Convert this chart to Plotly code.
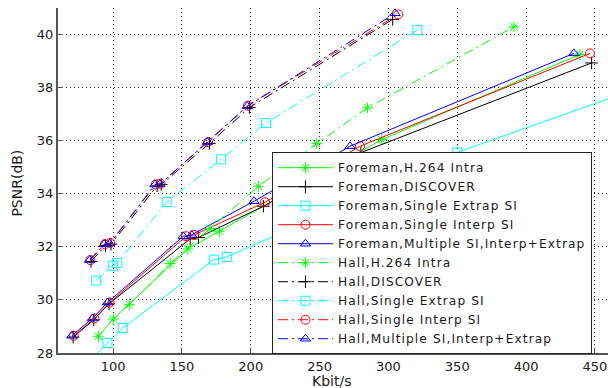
import plotly.graph_objects as go

# ---- data (Kbit/s, PSNR dB) ----
foreman_intra_x = [89.3, 100.2, 154.2, 177.2, 295.1, 439.1]
foreman_intra_y = [28.63, 29.28, 31.92, 32.59, 36.04, 39.25]

foreman_discover_x = [71.0, 86.0, 97.0, 156.0, 162.0, 209.2, 280.0, 447.6]
foreman_discover_y = [28.60, 29.25, 29.85, 32.30, 32.35, 33.53, 35.55, 38.93]

foreman_extrap_x = [84.0, 95.9, 107.0, 173.3, 182.6, 280.0, 350.0, 480.0]
foreman_extrap_y = [27.75, 28.38, 28.94, 31.52, 31.62, 33.85, 35.56, 37.95]

foreman_interp_x = [71.5, 86.5, 97.5, 153.0, 159.0, 210.4, 279.3, 446.4]
foreman_interp_y = [28.65, 29.30, 29.90, 32.40, 32.45, 33.68, 35.79, 39.29]

foreman_multi_x = [70.0, 85.0, 96.0, 151.0, 157.0, 202.4, 272.1, 434.7]
foreman_multi_y = [28.65, 29.30, 29.90, 32.40, 32.45, 33.72, 35.79, 39.29]

hall_intra_x = [111.8, 141.4, 170.4, 205.5, 247.9, 284.9, 391.2]
hall_intra_y = [29.82, 31.37, 32.69, 34.28, 35.89, 37.24, 40.29]

hall_discover_x = [84.0, 94.5, 98.5, 132.0, 135.0, 170.0, 199.0, 303.1]
hall_discover_y = [31.45, 32.05, 32.10, 34.30, 34.35, 35.90, 37.25, 40.57]

hall_extrap_x = [87.7, 99.8, 103.1, 139.0, 178.5, 211.1, 321.0]
hall_extrap_y = [30.73, 31.29, 31.39, 33.69, 35.30, 36.67, 40.17]

hall_interp_x = [83.5, 94.0, 98.0, 131.0, 134.5, 169.0, 198.0, 307.2]
hall_interp_y = [31.50, 32.10, 32.15, 34.35, 34.38, 35.95, 37.32, 40.76]

hall_multi_x = [83.0, 93.5, 97.5, 130.5, 134.0, 168.5, 197.5, 304.8]
hall_multi_y = [31.50, 32.10, 32.12, 34.35, 34.36, 35.95, 37.30, 40.80]

x_ticks = [100, 150, 200, 250, 300, 350, 400, 450]
y_ticks = [28, 30, 32, 34, 36, 38, 40]

HALL_DASH = "10px,4px,2px,4px"
series = [
    ("Foreman,H.264 Intra", foreman_intra_x, foreman_intra_y, "#00ff00", "asterisk-open", "solid"),
    ("Foreman,DISCOVER", foreman_discover_x, foreman_discover_y, "#000000", "cross-thin-open", "solid"),
    ("Foreman,Single Extrap SI", foreman_extrap_x, foreman_extrap_y, "#00ffff", "square-open", "solid"),
    ("Foreman,Single Interp SI", foreman_interp_x, foreman_interp_y, "#ff0000", "circle-open", "solid"),
    ("Foreman,Multiple SI,Interp+Extrap", foreman_multi_x, foreman_multi_y, "#0000ff", "triangle-up-open", "solid"),
    ("Hall,H.264 Intra", hall_intra_x, hall_intra_y, "#00ff00", "asterisk-open", HALL_DASH),
    ("Hall,DISCOVER", hall_discover_x, hall_discover_y, "#000000", "cross-thin-open", HALL_DASH),
    ("Hall,Single Extrap SI", hall_extrap_x, hall_extrap_y, "#00ffff", "square-open", HALL_DASH),
    ("Hall,Single Interp SI", hall_interp_x, hall_interp_y, "#ff0000", "circle-open", HALL_DASH),
    ("Hall,Multiple SI,Interp+Extrap", hall_multi_x, hall_multi_y, "#0000ff", "triangle-up-open", HALL_DASH),
]

fig = go.Figure()
for name, xs, ys, col, sym, dash in series:
    fig.add_trace(go.Scatter(
        x=xs, y=ys,
        name='<span style="letter-spacing:1.1px">' + name + '</span>',
        mode="lines+markers",
        line=dict(color=col, width=1, dash=dash),
        marker=dict(symbol=sym, size=9, color=col, line=dict(width=1, color=col)),
    ))

font_family = "DejaVu Sans"
fig.update_layout(
    width=608, height=388,
    margin=dict(l=58, r=0, t=8, b=35),
    paper_bgcolor="white", plot_bgcolor="white",
    font=dict(family=font_family, size=13, color="#1a1a1a"),
    showlegend=True,
    legend=dict(
        x=0.389, y=0.582, xanchor="left", yanchor="top",
        bgcolor="white", bordercolor="#222222", borderwidth=1,
        font=dict(family=font_family, size=12.2, color="#1a1a1a"),
        itemwidth=55, tracegroupgap=0,
    ),
    xaxis=dict(
        range=[60, 459.5], tickvals=x_ticks, ticktext=[str(v) for v in x_ticks],
        showgrid=True, gridcolor="#222222", gridwidth=1, griddash="1px,3px",
        showline=True, linecolor="#555555", linewidth=2,
        ticks="inside", ticklen=5, tickcolor="#555555",
        zeroline=False, mirror=False,
    ),
    yaxis=dict(
        range=[28, 41], tickvals=y_ticks, ticktext=[str(v) for v in y_ticks],
        showgrid=True, gridcolor="#222222", gridwidth=1, griddash="1px,3px",
        showline=True, linecolor="#555555", linewidth=2,
        ticks="inside", ticklen=5, tickcolor="#555555",
        zeroline=False, mirror=False,
    ),
    annotations=[
        dict(text="Kbit/s", x=0.497, y=-0.081, xref="paper", yref="paper",
             xanchor="center", yanchor="middle", showarrow=False,
             font=dict(family=font_family, size=14, color="#1a1a1a")),
        dict(text="PSNR(dB)", x=-0.0751, y=0.493, xref="paper", yref="paper",
             xanchor="center", yanchor="middle", showarrow=False, textangle=-90,
             font=dict(family=font_family, size=14, color="#1a1a1a")),
    ],
)

fig.write_html("out.html")
